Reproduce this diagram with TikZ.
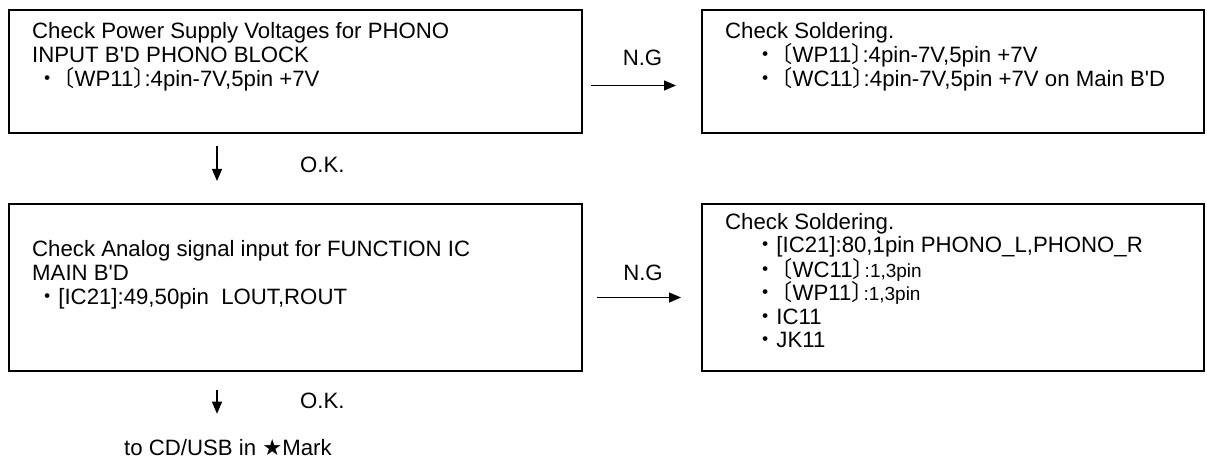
\documentclass[tikz,border=0pt]{standalone}
\usepackage{fontspec}
\setmainfont{Liberation Sans}
\newfontfamily\cjk{Noto Sans CJK JP}
\newfontfamily\cjkh[RawFeature=+halt]{Noto Sans CJK JP}
\newfontfamily\sym{DejaVu Sans}
\usetikzlibrary{arrows.meta,positioning}

\tikzset{
  chkbox/.style={draw,line width=2pt,inner sep=0pt,anchor=north west},
  chktxt/.style={align=left,inner sep=0pt,anchor=north west},
  lbl/.style={inner sep=0pt},
  arr/.style={line width=1.2pt,-{Triangle[length=12pt,width=10pt]}},
}
\newcommand{\bul}{\hspace*{4pt}{\cjk ・}}
\newcommand{\bulr}{\hspace*{29pt}{\cjk ・}}
\newcommand{\lbr}{\hspace{-6pt}{\cjk 〔}}
\newcommand{\rbr}{{\cjkh 〕}}
\newcommand{\qt}{\textquotesingle}

\begin{document}
\begin{tikzpicture}[x=1pt,y=-1pt,font=\fontsize{22.2}{24}\selectfont]
\useasboundingbox (0,0) rectangle (1207,465);
% boxes
\node[chkbox,minimum width=573pt,minimum height=123pt] (b1) at (8,9) {};
\node[chkbox,minimum width=502pt,minimum height=123pt] (b2) at (701,9) {};
\node[chkbox,minimum width=573pt,minimum height=167pt] (b3) at (8,203) {};
\node[chkbox,minimum width=502pt,minimum height=167pt] (b4) at (701,203) {};
% texts
\node[chktxt,below right=13pt and 24pt of b1.north west] (t1) {Check Power Supply Voltages for PHONO\\
  INPUT B\qt D PHONO BLOCK\\
  \bul\lbr WP11\rbr:4pin-7V,5pin +7V};
\node[chktxt,below right=13pt and 24pt of b2.north west] (t2) {Check Soldering.\\
  \bulr\lbr WP11\rbr:4pin-7V,5pin +7V\\
  \bulr\lbr WC11\rbr:4pin-7V,5pin +7V on Main B\qt D};
\node[chktxt,below right=37pt and 24pt of b3.north west] (t3) {Check Analog signal input for FUNCTION IC\\
  MAIN B\qt D\\
  \bul[IC21]:49,50pin\ \ LOUT,ROUT};
\node[chktxt,below right=10pt and 24pt of b4.north west,font=\fontsize{22.2}{23.4}\selectfont] (t4) {Check Soldering.\\
  \bulr[IC21]:80,1pin PHONO\_L,PHONO\_R\\
  \bulr\lbr WC11\rbr\hspace{1pt}{\fontsize{19}{23.4}\selectfont :1,3pin}\\
  \bulr\lbr WP11\rbr\hspace{1pt}{\fontsize{19}{23.4}\selectfont :1,3pin}\\
  \bulr IC11\\
  \bulr JK11};
\node[lbl,anchor=base west] (fin) at (124,455) {to CD/USB in {\sym ★}Mark};
% connectors
\draw[arr] ([shift={(8,14)}]b1.east) -- node[lbl,above=19pt,xshift=9pt] (ng1) {N.G} ([shift={(-25,14)}]b2.west);
\draw[arr] ([shift={(14,10)}]b3.east) -- node[lbl,above=16pt,xshift=4pt] (ng2) {N.G} ([shift={(-20,10)}]b4.west);
\draw[arr] ([shift={(209,12)}]b1.south west) -- ([shift={(209,-22)}]b3.north west);
\draw[arr] ([shift={(209,18)}]b3.south west) -- ([shift={(209,-25)}]b3.south west |- fin.north);
\node[lbl,anchor=base west] (ok1) at (300,173) {O.K.};
\node[lbl,anchor=base west] (ok2) at (300,408) {O.K.};
\end{tikzpicture}
\end{document}
